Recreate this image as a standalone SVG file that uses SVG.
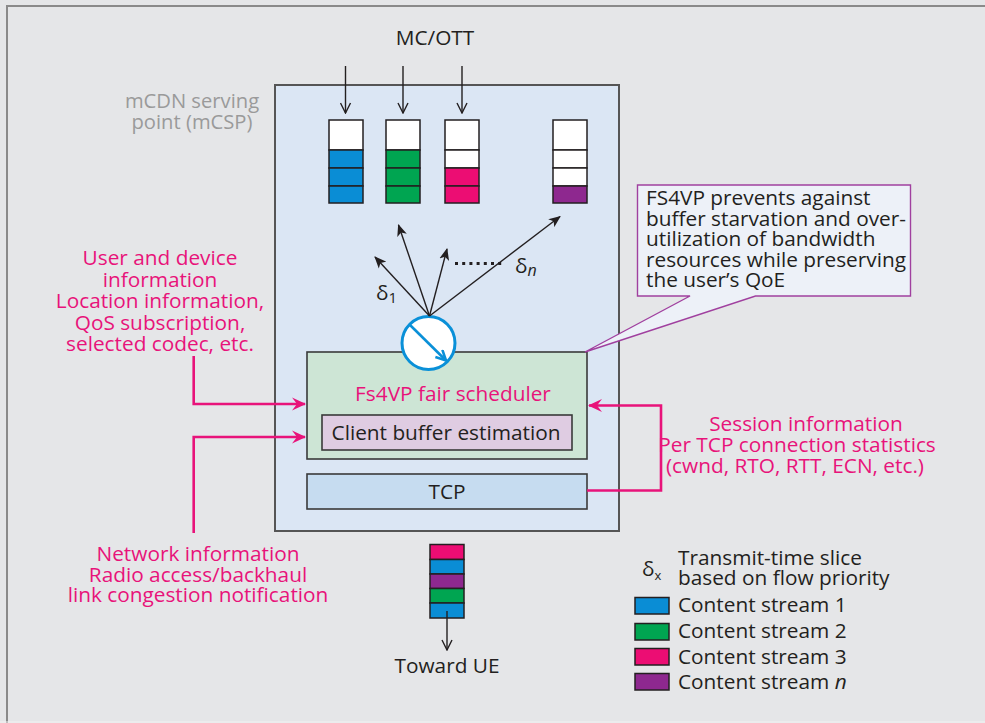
<svg xmlns="http://www.w3.org/2000/svg" width="985" height="723" viewBox="0 0 985 723">
<style>
text{font-family:"Open Sans","Liberation Sans",sans-serif;}
.t{font-size:20.8px;fill:#231f20;}
.p{font-size:20.8px;fill:#e8137a;}
.g{font-size:20.2px;fill:#9a9a9a;}
.box{stroke:#3a3a3a;stroke-width:1.6;}
.q{stroke:#231f20;stroke-width:1.5;}
.ln{stroke:#231f20;stroke-width:1.4;fill:none;}
.pk{stroke:#e8137a;stroke-width:2.6;fill:none;}
</style>
<defs>
<marker id="open" viewBox="0 0 12 12" refX="11" refY="6" markerWidth="12" markerHeight="12" markerUnits="userSpaceOnUse" orient="auto">
<path d="M1,1 L11,6 L1,11" fill="none" stroke="#231f20" stroke-width="1.4"/>
</marker>
<marker id="solid" viewBox="0 0 12 12" refX="11" refY="6" markerWidth="12" markerHeight="12" markerUnits="userSpaceOnUse" orient="auto">
<path d="M0,1 L12,6 L0,11 L3,6 Z" fill="#231f20"/>
</marker>
<marker id="pink" viewBox="0 0 14 14" refX="13" refY="7" markerWidth="14" markerHeight="14" markerUnits="userSpaceOnUse" orient="auto">
<path d="M0,0.5 L14,7 L0,13.5 L5,7 Z" fill="#e8137a"/>
</marker>
<marker id="blue" viewBox="0 0 12 12" refX="11" refY="6" markerWidth="12" markerHeight="12" markerUnits="userSpaceOnUse" orient="auto">
<path d="M1,1 L11,6 L1,11" fill="none" stroke="#0a90d8" stroke-width="2.6"/>
</marker>
</defs>
<rect x="0" y="0" width="985" height="723" fill="#e5e6e8"/>
<path d="M7,723 L7,6 L985,6" fill="none" stroke="#8a8a8a" stroke-width="2"/>
<line x1="0" y1="722" x2="985" y2="722" stroke="#f2f2f2" stroke-width="1"/>

<g id="title"><text class="t" x="435" y="45" text-anchor="middle">MC/OTT</text></g>

<g id="mcsp">
<rect x="275" y="85" width="344" height="446" fill="#dbe6f4" stroke="#555" stroke-width="2"/>
<text class="g" x="192" y="108" text-anchor="middle">mCDN serving</text>
<text class="g" x="192" y="129" text-anchor="middle">point (mCSP)</text>
</g>

<g id="queue1">
<rect class="q" x="329" y="120" width="34" height="30" fill="#fff"/>
<rect class="q" x="329" y="150" width="34" height="18" fill="#0a8dd5"/>
<rect class="q" x="329" y="168" width="34" height="18" fill="#0a8dd5"/>
<rect class="q" x="329" y="186" width="34" height="17" fill="#0a8dd5"/>
</g>
<g id="queue2">
<rect class="q" x="386" y="120" width="34" height="30" fill="#fff"/>
<rect class="q" x="386" y="150" width="34" height="18" fill="#00a551"/>
<rect class="q" x="386" y="168" width="34" height="18" fill="#00a551"/>
<rect class="q" x="386" y="186" width="34" height="17" fill="#00a551"/>
</g>
<g id="queue3">
<rect class="q" x="445" y="120" width="34" height="30" fill="#fff"/>
<rect class="q" x="445" y="150" width="34" height="18" fill="#fff"/>
<rect class="q" x="445" y="168" width="34" height="18" fill="#ec0d73"/>
<rect class="q" x="445" y="186" width="34" height="17" fill="#ec0d73"/>
</g>
<g id="queuen">
<rect class="q" x="553" y="120" width="34" height="30" fill="#fff"/>
<rect class="q" x="553" y="150" width="34" height="18" fill="#fff"/>
<rect class="q" x="553" y="168" width="34" height="18" fill="#fff"/>
<rect class="q" x="553" y="186" width="34" height="17" fill="#8e288f"/>
</g>

<g id="scheduler">
<rect class="box" x="307" y="352" width="280" height="107" fill="#cde5d5"/>
<text class="p" x="453" y="401" text-anchor="middle">Fs4VP fair scheduler</text>
</g>
<g id="client-buffer">
<rect class="box" x="322" y="415" width="250" height="35" fill="#dfcce2"/>
<text class="t" x="446" y="440" text-anchor="middle">Client buffer estimation</text>
</g>
<g id="tcp">
<rect class="box" x="307" y="474" width="280" height="35" fill="#c6dcf0"/>
<text class="t" x="447" y="499" text-anchor="middle">TCP</text>
</g>

<g id="switch">
<circle cx="428.5" cy="343" r="26.5" fill="#fff" stroke="#0a90d8" stroke-width="3"/>
<line x1="410" y1="325" x2="446" y2="360.5" stroke="#0a90d8" stroke-width="2.6" marker-end="url(#blue)"/>
</g>

<g id="callout">
<path d="M637.5,185 L910.5,185 L910.5,296 L755.5,296 L585,352 L690,296 L637.5,296 Z" fill="#edf1f8" stroke="#a0409f" stroke-width="1.4"/>
<text class="t" x="646" y="205">FS4VP prevents against</text>
<text class="t" x="646" y="225.5">buffer starvation and over-</text>
<text class="t" x="646" y="246">utilization of bandwidth</text>
<text class="t" x="646" y="266.5">resources while preserving</text>
<text class="t" x="646" y="287">the user’s QoE</text>
</g>

<g id="user-info">
<text class="p" x="160" y="265" text-anchor="middle">User and device</text>
<text class="p" x="160" y="286.5" text-anchor="middle">information</text>
<text class="p" x="160" y="308" text-anchor="middle">Location information,</text>
<text class="p" x="160" y="329.5" text-anchor="middle">QoS subscription,</text>
<text class="p" x="160" y="351" text-anchor="middle">selected codec, etc.</text>
</g>
<g id="network-info">
<text class="p" x="198" y="561" text-anchor="middle">Network information</text>
<text class="p" x="198" y="582" text-anchor="middle">Radio access/backhaul</text>
<text class="p" x="198" y="602" text-anchor="middle">link congestion notification</text>
</g>
<g id="session-info">
<text class="p" x="806" y="431" text-anchor="middle">Session information</text>
<text class="p" x="797" y="452" text-anchor="middle">Per TCP connection statistics</text>
<text class="p" x="795" y="473" text-anchor="middle">(cwnd, RTO, RTT, ECN, etc.)</text>
</g>

<g id="output-stack">
<rect class="q" x="430" y="544.5" width="34" height="15" fill="#ec0d73"/>
<rect class="q" x="430" y="559.5" width="34" height="14.5" fill="#0a8dd5"/>
<rect class="q" x="430" y="574" width="34" height="14.5" fill="#8e288f"/>
<rect class="q" x="430" y="588.5" width="34" height="14.5" fill="#00a551"/>
<rect class="q" x="430" y="603" width="34" height="15" fill="#0a8dd5"/>
<text class="t" x="447" y="673" text-anchor="middle">Toward UE</text>
</g>

<g id="legend">
<text class="t" x="642" y="576">δ<tspan style="font-size:13px" dy="4">x</tspan></text>
<text class="t" x="678" y="565">Transmit-time slice</text>
<text class="t" x="678" y="585">based on flow priority</text>
<rect class="q" x="635" y="597.5" width="34" height="16.5" fill="#0a8dd5"/>
<text class="t" x="678" y="612">Content stream 1</text>
<rect class="q" x="635" y="623.5" width="34" height="16.5" fill="#00a551"/>
<text class="t" x="678" y="638">Content stream 2</text>
<rect class="q" x="635" y="648.5" width="34" height="16.5" fill="#ec0d73"/>
<text class="t" x="678" y="663.5">Content stream 3</text>
<rect class="q" x="635" y="673.5" width="34" height="16.5" fill="#8e288f"/>
<text class="t" x="678" y="688.5">Content stream <tspan font-style="italic">n</tspan></text>
</g>

<g id="connectors">
<line class="ln" x1="345.5" y1="66" x2="345.5" y2="113" marker-end="url(#open)"/>
<line class="ln" x1="403" y1="66" x2="403" y2="113" marker-end="url(#open)"/>
<line class="ln" x1="462" y1="66" x2="462" y2="113" marker-end="url(#open)"/>
<line class="ln" x1="447" y1="611" x2="447" y2="650" marker-end="url(#open)"/>
<line class="ln" x1="429.5" y1="316" x2="375" y2="257" marker-end="url(#solid)"/>
<line class="ln" x1="429.5" y1="316" x2="398.5" y2="225" marker-end="url(#solid)"/>
<line class="ln" x1="429.5" y1="316" x2="447" y2="249" marker-end="url(#solid)"/>
<line class="ln" x1="429.5" y1="316" x2="560" y2="216.5" marker-end="url(#solid)"/>
<line x1="455" y1="263.5" x2="504" y2="263.5" stroke="#231f20" stroke-width="3" stroke-dasharray="3,4.2"/>
<text class="t" x="376" y="300">δ<tspan style="font-size:15px" dy="3">1</tspan></text>
<text class="t" x="515" y="273">δ<tspan style="font-size:16px;font-style:italic" dy="3">n</tspan></text>
<path class="pk" d="M193.7,356 L193.7,404 L305,404" marker-end="url(#pink)"/>
<path class="pk" d="M193.7,533 L193.7,437 L305,437" marker-end="url(#pink)"/>
<path class="pk" d="M587,490.5 L661,490.5 L661,405.5 L589,405.5" marker-end="url(#pink)"/>
</g>
</svg>
